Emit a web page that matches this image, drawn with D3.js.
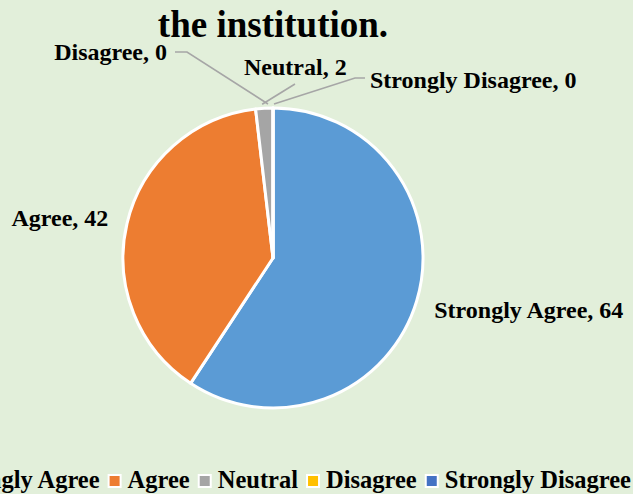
<!DOCTYPE html>
<html>
<head>
<meta charset="utf-8">
<script src="https://cdn.jsdelivr.net/npm/d3@7"></script>
<style>
  html, body { margin: 0; padding: 0; background: #e2efda; overflow: hidden; }
  svg text { font-family: "Liberation Serif", "Times New Roman", serif; font-weight: bold; fill: #000; }
</style>
</head>
<body>
<svg id="chart" width="633" height="494"></svg>
<script>
// data
var categories = ["Strongly Agree", "Agree", "Neutral", "Disagree", "Strongly Disagree"];
var counts = [64, 42, 2, 0, 0];
var colors = ["#5b9bd5", "#ed7d31", "#a5a5a5", "#ffc000", "#4472c4"];
var titleLines = ["the institution."];

var W = 633, H = 494;
var cx = 273, cy = 258, radius = 150;

var svg = d3.select("#chart");

svg.append("rect").attr("width", W).attr("height", H).attr("fill", "#e2efda");

// title (first line falls above the crop)
svg.append("text")
  .attr("x", cx).attr("y", 37)
  .attr("text-anchor", "middle")
  .style("font-size", "37px")
  .text(titleLines[0]);

var rows = categories.map(function(c, i) { return {name: c, value: counts[i], color: colors[i]}; });

var pie = d3.pie().sort(null).value(function(d) { return d.value; });
var arcs = pie(rows);
var arc = d3.arc().innerRadius(0).outerRadius(radius);

var g = svg.append("g").attr("transform", "translate(" + cx + "," + cy + ")");

g.selectAll("path.slice").data(arcs).enter().append("path")
  .attr("class", "slice")
  .attr("d", arc)
  .attr("fill", function(d) { return d.data.color; })
  .attr("stroke", "#fff")
  .attr("stroke-width", 3)
  .attr("stroke-linejoin", "round");

function edgePoint(a, r) {
  var m = (a.startAngle + a.endAngle) / 2;
  return [Math.sin(m) * r, -Math.cos(m) * r];
}

// label placement: big slices sit beside the pie, small ones get leader lines
var callouts = {
  "Neutral":           {x: 244, y: 75, anchor: "start", line: [[295, 84]]},
  "Disagree":          {x: 167, y: 60, anchor: "end",   line: [[175, 52], [187, 52]]},
  "Strongly Disagree": {x: 370, y: 88, anchor: "start", line: [[365, 78], [355, 78]]}
};
var nudge = {"Neutral": -2, "Disagree": -5, "Strongly Disagree": 1};

arcs.forEach(function(a) {
  var name = a.data.name;
  var txt = name + ", " + a.data.value;
  var c = callouts[name];
  if (c) {
    var p = edgePoint(a, radius + 2);
    var end = [cx + p[0] + nudge[name], cy + p[1] - 2];
    var pts = c.line.concat([end]);
    svg.append("path")
      .attr("d", d3.line()(pts))
      .attr("fill", "none")
      .attr("stroke", "#a6a6a6")
      .attr("stroke-width", 1.6);
    svg.append("text")
      .attr("x", c.x).attr("y", c.y)
      .attr("text-anchor", c.anchor)
      .style("font-size", "24px")
      .text(txt);
  } else {
    var q = edgePoint(a, radius + 10);
    var right = q[0] > 0;
    svg.append("text")
      .attr("x", cx + q[0] + (right ? 8 : -9))
      .attr("y", cy + q[1] + (right ? 14 : 5))
      .attr("text-anchor", right ? "start" : "end")
      .style("font-size", "24px")
      .text(txt);
  }
});

// legend, laid out then pushed so it ends at the right edge (clipped left like the original)
var legend = svg.append("g");
var ly = 488, box = 12, gapIn = 7, gapOut = 9;
var lx = 0;
rows.forEach(function(d) {
  legend.append("rect")
    .attr("x", lx).attr("y", ly - 13)
    .attr("width", box).attr("height", box)
    .attr("fill", d.color)
    .attr("stroke", "#fff")
    .attr("stroke-width", 2);
  var t = legend.append("text")
    .attr("x", lx + box + gapIn).attr("y", ly)
    .style("font-size", "24.5px")
    .text(d.name);
  lx += box + gapIn + t.node().getComputedTextLength() + gapOut;
});
var legendEnd = lx - gapOut;
legend.attr("transform", "translate(" + (631 - legendEnd) + ",0)");
</script>
</body>
</html>
